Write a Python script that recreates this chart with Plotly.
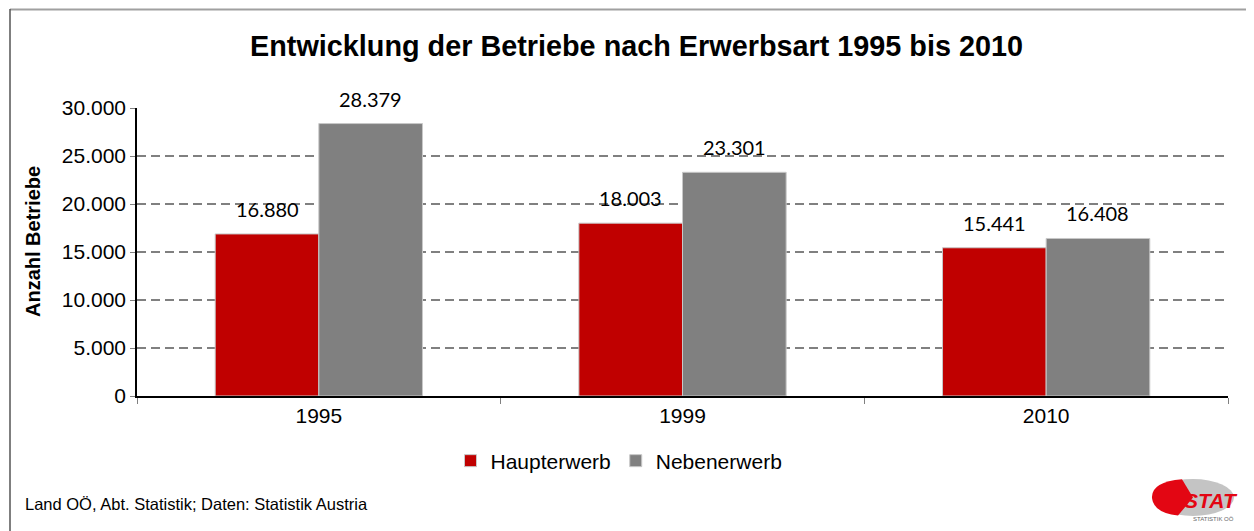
import plotly.graph_objects as go

# ---- data ----
years = ["1995", "1999", "2010"]
haupterwerb = [16880, 18003, 15441]
nebenerwerb = [28379, 23301, 16408]
series_names = ["Haupterwerb", "Nebenerwerb"]
y_ticks = [0, 5000, 10000, 15000, 20000, 25000, 30000]

title_text = "Entwicklung der Betriebe nach Erwerbsart 1995 bis 2010"
yaxis_title = "Anzahl Betriebe"
source_text = "Land OÖ, Abt. Statistik; Daten: Statistik Austria"

# ---- layout constants (reference pixel coords; page has an 8px body margin) ----
OFF = 8
W, H = 1254 - OFF, 531 - OFF
ML, MR, MT, MB = 137 - OFF, 26, 108 - OFF, 135
PW, PH = W - ML - MR, H - MT - MB
RED = "#C00000"
GRAY = "#808080"
BARGAP = 0.43
FONT = "Liberation Sans, Arial, sans-serif"


def px(x):
    return (x - OFF - ML) / PW


def py(y):
    return (H - MB - (y - OFF)) / PH


fig = go.Figure()
for name, vals, col in [(series_names[0], haupterwerb, RED), (series_names[1], nebenerwerb, GRAY)]:
    fig.add_trace(go.Bar(
        x=years, y=vals, name=name,
        marker=dict(color=col, line=dict(color="#c8c8c8", width=1)),
    ))

# data labels (annotations positioned at bar centres via the category axis)
half = (1 - BARGAP) / 4
annotations = []
for si, vals in enumerate([haupterwerb, nebenerwerb]):
    off = -half if si == 0 else half
    for i, v in enumerate(vals):
        annotations.append(dict(
            x=i + off, y=v, xref="x", yref="y",
            text=f"{v:,}".replace(",", "."),
            showarrow=False, yshift=25, yanchor="middle",
            font=dict(family="Lato, Carlito, sans-serif", size=20, color="#000"),
        ))

annotations += [
    dict(text=f"<b>{title_text}</b>", xref="paper", yref="paper",
         x=px(636), y=py(46), showarrow=False, xanchor="center", yanchor="middle",
         font=dict(family=FONT, size=28.8, color="#000")),
    dict(text=f"<b>{yaxis_title}</b>", xref="paper", yref="paper",
         x=px(33), y=py(242), showarrow=False, textangle=-90,
         xanchor="center", yanchor="middle",
         font=dict(family=FONT, size=20, color="#000")),
    dict(text=source_text, xref="paper", yref="paper",
         x=px(23), y=py(504), showarrow=False, xanchor="left", yanchor="middle",
         font=dict(family=FONT, size=16.5, color="#000")),
    # logo text
    dict(text="<b><i>STAT</i></b>", xref="paper", yref="paper",
         x=px(1211), y=py(500), showarrow=False, xanchor="center", yanchor="middle",
         font=dict(family=FONT, size=21, color="#E30613")),
    dict(text="STATISTIK OÖ", xref="paper", yref="paper",
         x=px(1213), y=py(519), showarrow=False, xanchor="center", yanchor="middle",
         font=dict(family=FONT, size=6, color="#666")),
]

shapes = [
    # page frame lines
    dict(type="line", xref="paper", yref="paper", x0=px(10), x1=px(1254), y0=py(9.5), y1=py(9.5),
         line=dict(color="#a0a0a0", width=2)),
    dict(type="line", xref="paper", yref="paper", x0=px(10), x1=px(10), y0=py(9), y1=py(531),
         line=dict(color="#555555", width=1.5)),
    # logo ellipse
    dict(type="circle", xref="paper", yref="paper",
         x0=px(1152), x1=px(1234), y0=py(479), y1=py(516),
         fillcolor="#c4c4c4", line=dict(width=0), layer="above"),
    dict(type="path", xref="paper", yref="paper",
         path=(f"M {px(1193)} {py(497.5)} L {px(1182)} {py(479.3)} "
               f"Q {px(1151)} {py(482)} {px(1152)} {py(498)} "
               f"Q {px(1154)} {py(513)} {px(1178)} {py(515.6)} Z"),
         fillcolor="#E30613", line=dict(width=0), layer="above"),
]

fig.update_layout(
    width=W, height=H,
    margin=dict(l=ML, r=MR, t=MT, b=MB),
    paper_bgcolor="white", plot_bgcolor="white",
    separators=",.",
    barmode="group", bargap=BARGAP, bargroupgap=0,
    font=dict(family=FONT, size=21, color="#000"),
    showlegend=True,
    legend=dict(orientation="h", x=px(619), y=py(461), xanchor="center", yanchor="middle",
                font=dict(family=FONT, size=21, color="#000"), itemwidth=30,
                traceorder="normal"),
    annotations=annotations,
    shapes=shapes,
    xaxis=dict(
        type="category", showline=True, linecolor="#000", linewidth=1.5,
        ticks="outside", tickson="boundaries", ticklen=6, tickcolor="#808080",
        showgrid=False, tickfont=dict(size=21), range=[-0.5, 2.5],
    ),
    yaxis=dict(
        range=[0, 30000], tickvals=y_ticks, tickformat=",d",
        showline=True, linecolor="#000", linewidth=1.5,
        ticks="outside", ticklen=5, tickcolor="#808080",
        showgrid=True, gridcolor="#808080", gridwidth=1.5, griddash="9px,5px",
        zeroline=False, tickfont=dict(size=21),
    ),
)

fig.write_html("out.html")
